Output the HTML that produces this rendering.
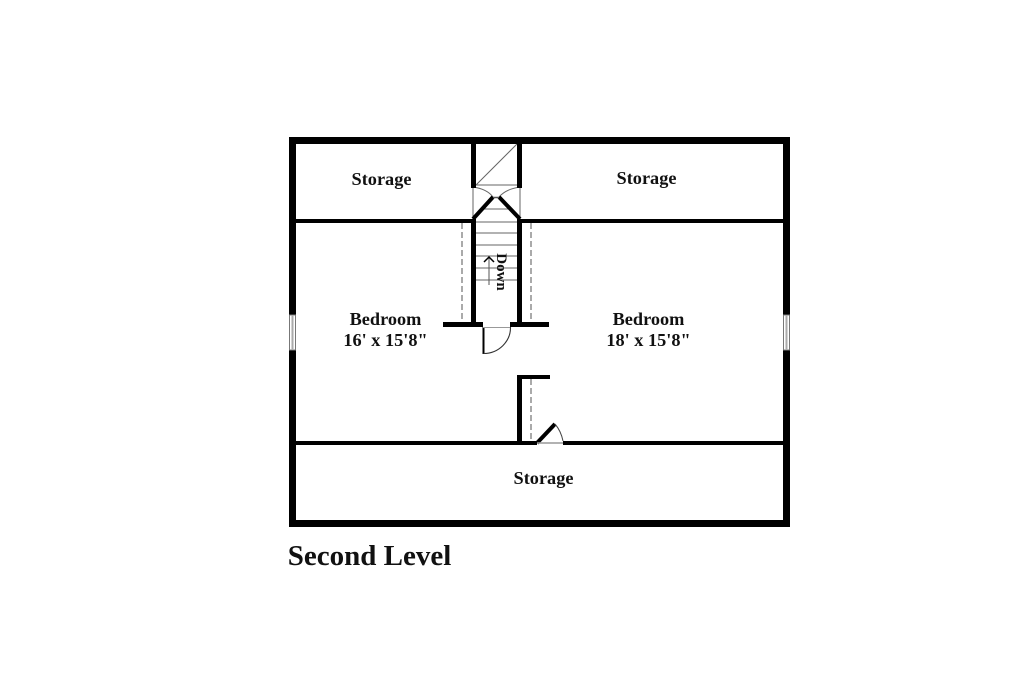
<!DOCTYPE html>
<html>
<head>
<meta charset="utf-8">
<style>
html,body{margin:0;padding:0;background:#fff;width:1024px;height:685px;overflow:hidden}
svg{display:block}
text{font-family:"Liberation Serif",serif;font-weight:bold;fill:#111;text-anchor:middle}
</style>
</head>
<body>
<svg width="1024" height="685" viewBox="0 0 1024 685" xmlns="http://www.w3.org/2000/svg">
<rect width="1024" height="685" fill="#fff"/>
<!-- thin stair lines -->
<g stroke="#666" stroke-width="1" fill="none">
<path d="M476 185H517M476 185L517 144"/>
<path d="M473 188V219M520 188V219"/>
<path d="M473 187Q487 189 493 197M520 187Q506 189 499 197"/>
<path d="M483 209H510M476 222H517M476 233H517M476 245H517M476 256H517M476 268H517M476 280H517"/>
</g>
<!-- dashed -->
<g stroke="#555" stroke-width="1" stroke-dasharray="6 3" fill="none">
<path d="M462 223V322M531 223V322M531 379V441"/>
</g>
<!-- walls -->
<g fill="#000">
<rect x="289" y="137" width="501" height="7"/>
<rect x="289" y="520" width="501" height="7"/>
<rect x="289" y="137" width="7" height="390"/>
<rect x="783" y="137" width="7" height="390"/>
<rect x="296" y="219" width="180" height="4"/>
<rect x="517" y="219" width="266" height="4"/>
<rect x="471" y="144" width="5" height="44"/>
<rect x="517" y="144" width="5" height="44"/>
<rect x="471" y="219" width="5" height="104"/>
<rect x="517" y="219" width="5" height="104"/>
<rect x="443" y="322" width="40" height="5"/>
<rect x="510" y="322" width="39" height="5"/>
<rect x="517" y="375" width="5" height="68"/>
<rect x="517" y="375" width="33" height="4"/>
<rect x="296" y="441" width="241" height="4"/>
<rect x="563" y="441" width="220" height="4"/>
</g>
<!-- thick stair diagonals -->
<g stroke="#000" stroke-width="4" fill="none">
<path d="M473 219L493 197M520 219L499 197"/>
<path d="M537 443L555 424"/>
</g>
<path d="M493 197.500H499" stroke="#555" stroke-width="1.500" fill="none"/>
<!-- doors -->
<g fill="none">
<path d="M483.500 327V354" stroke="#000" stroke-width="2"/>
<path d="M483.500 353.500A27 26 0 0 0 510.500 327" stroke="#333" stroke-width="1.100"/>
<path d="M483 327.500H510" stroke="#999" stroke-width="1"/>
<path d="M555 424Q561 431 563 441" stroke="#444" stroke-width="1"/>
<path d="M537 443H563" stroke="#999" stroke-width="1.400"/>
</g>
<!-- windows -->
<g>
<rect x="289" y="315" width="7" height="35" fill="#fff"/>
<rect x="783" y="315" width="7" height="35" fill="#fff"/>
<g stroke="#777" stroke-width="1" fill="none">
<path d="M289.500 315V350M295.500 315V350"/>
<path d="M783.500 315V350M789.500 315V350"/>
<path d="M289 315H296M289 350H296M783 315H790M783 350H790"/>
</g>
<path d="M292.500 315V350M786.500 315V350" stroke="#aaa" stroke-width="2" fill="none"/>
</g>
<!-- arrow -->
<path d="M489 285V257" stroke="#555" stroke-width="1" fill="none"/>
<path d="M484 262L489 257L494 262" stroke="#000" stroke-width="1.500" fill="none"/>
<!-- labels -->
<g font-size="18.300">
<text x="381.500" y="185">Storage</text>
<text x="646.500" y="184">Storage</text>
<text x="385.500" y="325">Bedroom</text>
<text x="385.500" y="346">16' x 15'8"</text>
<text x="648.500" y="325">Bedroom</text>
<text x="648.500" y="346">18' x 15'8"</text>
<text x="543.500" y="484">Storage</text>
<text transform="translate(497 272) rotate(90)" font-size="15">Down</text>
</g>
<text x="369.500" y="565" font-size="29">Second Level</text>
</svg>
</body>
</html>
